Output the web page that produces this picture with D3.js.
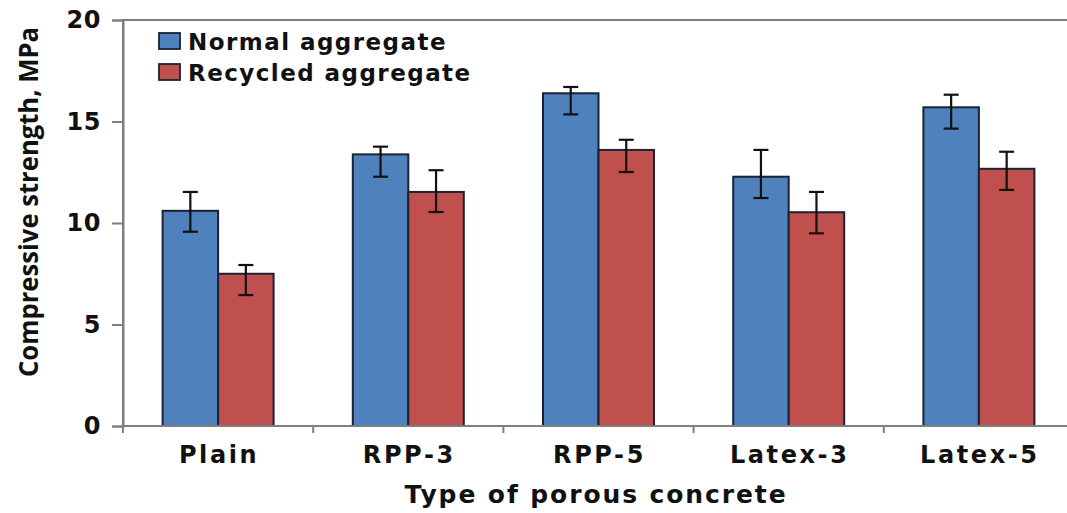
<!DOCTYPE html>
<html>
<head>
<meta charset="utf-8">
<script src="https://cdn.jsdelivr.net/npm/d3@7"></script>
<style>
  html, body { margin: 0; padding: 0; background: #fff; }
  svg { display: block; }
</style>
</head>
<body>
<svg id="chart" width="1067" height="513"></svg>
<script>
// Compressive strength of porous concrete mixes
const categories = ["Plain", "RPP-3", "RPP-5", "Latex-3", "Latex-5"];
const seriesNames = ["Normal aggregate", "Recycled aggregate"];

const normalMean = [10.6, 13.38, 16.39, 12.28, 15.7];
const normalLow  = [9.57, 12.28, 15.35, 11.23, 14.65];
const normalHigh = [11.53, 13.76, 16.7, 13.6, 16.32];

const recycledMean = [7.5, 11.53, 13.6, 10.53, 12.67];
const recycledLow  = [6.45, 10.54, 12.51, 9.49, 11.63];
const recycledHigh = [7.93, 12.6, 14.1, 11.53, 13.51];

const yTicks = [0, 5, 10, 15, 20];

const colors = ["#4f81bd", "#c0504d"];

const svg = d3.select("#chart");
const plot = { left: 123, top: 20, right: 1074, bottom: 426 };

const x0 = d3.scaleBand().domain(categories).range([plot.left, plot.right]).padding(0);
const groupW = 111;
const x1 = d3.scaleBand().domain(seriesNames)
  .range([(x0.bandwidth() - groupW) / 2, (x0.bandwidth() + groupW) / 2]).padding(0);
const y = d3.scaleLinear().domain([0, 20]).range([plot.bottom, plot.top]);

const rows = categories.map((c, i) => ({
  cat: c,
  values: [
    { s: seriesNames[0], v: normalMean[i], lo: normalLow[i], hi: normalHigh[i] },
    { s: seriesNames[1], v: recycledMean[i], lo: recycledLow[i], hi: recycledHigh[i] }
  ]
}));

const labelFont = "'DejaVu Sans', Verdana, sans-serif";

// plot-area border (top edge visible, right edge runs off the canvas)
svg.append("rect")
  .attr("x", plot.left).attr("y", plot.top)
  .attr("width", plot.right - plot.left).attr("height", plot.bottom - plot.top)
  .attr("fill", "none").attr("stroke", "#7f7f7f").attr("stroke-width", 2);

// bars
const groups = svg.append("g").selectAll("g").data(rows).join("g")
  .attr("transform", d => `translate(${x0(d.cat)},0)`);

groups.selectAll("rect").data(d => d.values).join("rect")
  .attr("x", d => x1(d.s))
  .attr("y", d => y(d.v))
  .attr("width", x1.bandwidth())
  .attr("height", d => y(0) - y(d.v))
  .attr("fill", (d, i) => colors[i])
  .attr("stroke", "#1a2233")
  .attr("stroke-width", 2);

// error bars
const capW = 15;
const eb = groups.selectAll("g.err").data(d => d.values).join("g").attr("class", "err")
  .attr("stroke", "#111").attr("stroke-width", 2.2);
eb.append("line")
  .attr("x1", d => x1(d.s) + x1.bandwidth() / 2).attr("x2", d => x1(d.s) + x1.bandwidth() / 2)
  .attr("y1", d => y(d.lo)).attr("y2", d => y(d.hi));
eb.append("line")
  .attr("x1", d => x1(d.s) + x1.bandwidth() / 2 - capW / 2).attr("x2", d => x1(d.s) + x1.bandwidth() / 2 + capW / 2)
  .attr("y1", d => y(d.hi)).attr("y2", d => y(d.hi));
eb.append("line")
  .attr("x1", d => x1(d.s) + x1.bandwidth() / 2 - capW / 2).attr("x2", d => x1(d.s) + x1.bandwidth() / 2 + capW / 2)
  .attr("y1", d => y(d.lo)).attr("y2", d => y(d.lo));

// y axis
const yAxis = svg.append("g").attr("transform", `translate(${plot.left},0)`)
  .call(d3.axisLeft(y).tickValues(yTicks).tickSize(11).tickPadding(11).tickFormat(d3.format("d")));
yAxis.select(".domain").attr("stroke", "#7f7f7f").attr("stroke-width", 2);
yAxis.selectAll(".tick line").attr("stroke", "#7f7f7f").attr("stroke-width", 2);
yAxis.selectAll(".tick text")
  .attr("fill", "#111")
  .style("font-family", labelFont)
  .style("font-weight", "bold").style("font-size", "24px")
  .style("letter-spacing", "0.5px");

// x axis: ticks sit at category boundaries
const xAxisG = svg.append("g").attr("transform", `translate(0,${plot.bottom})`);
xAxisG.append("line")
  .attr("x1", plot.left).attr("x2", plot.right)
  .attr("stroke", "#7f7f7f").attr("stroke-width", 2);
const bounds = categories.map(c => x0(c)).concat([x0(categories[categories.length - 1]) + x0.bandwidth()]);
xAxisG.selectAll("line.bt").data(bounds).join("line").attr("class", "bt")
  .attr("x1", d => d).attr("x2", d => d).attr("y1", 0).attr("y2", 7)
  .attr("stroke", "#7f7f7f").attr("stroke-width", 2);
xAxisG.selectAll("text").data(categories).join("text")
  .attr("x", d => x0(d) + x0.bandwidth() / 2 + 1)
  .attr("y", 37)
  .attr("text-anchor", "middle")
  .attr("fill", "#111")
  .style("font-family", labelFont)
  .style("font-weight", "bold").style("font-size", "24px")
  .style("letter-spacing", "2.6px")
  .text(d => d);

// axis titles
svg.append("text")
  .attr("x", 596).attr("y", 503)
  .attr("text-anchor", "middle")
  .attr("fill", "#111")
  .style("font-family", labelFont)
  .style("font-weight", "bold").style("font-size", "25px")
  .style("letter-spacing", "1.9px")
  .text("Type of porous concrete");

svg.append("text")
  .attr("transform", "translate(38,202) rotate(-90)")
  .attr("text-anchor", "middle")
  .attr("fill", "#111")
  .style("font-family", "'Liberation Sans Narrow', 'Open Sans', sans-serif")
  .style("font-weight", "bold").style("font-size", "27px")
  .attr("textLength", 350).attr("lengthAdjust", "spacingAndGlyphs")
  .text("Compressive strength, MPa");

// legend
const legend = svg.append("g").attr("transform", "translate(159,33)");
const li = legend.selectAll("g").data(seriesNames).join("g")
  .attr("transform", (d, i) => `translate(0,${i * 31})`);
li.append("rect")
  .attr("width", 21).attr("height", 16)
  .attr("fill", (d, i) => colors[i])
  .attr("stroke", "#1a2233").attr("stroke-width", 1.8);
li.append("text")
  .attr("x", 29).attr("y", 17)
  .attr("fill", "#111")
  .style("font-family", labelFont)
  .style("font-weight", "bold").style("font-size", "23px")
  .style("letter-spacing", "1.45px")
  .text(d => d);
</script>
</body>
</html>
